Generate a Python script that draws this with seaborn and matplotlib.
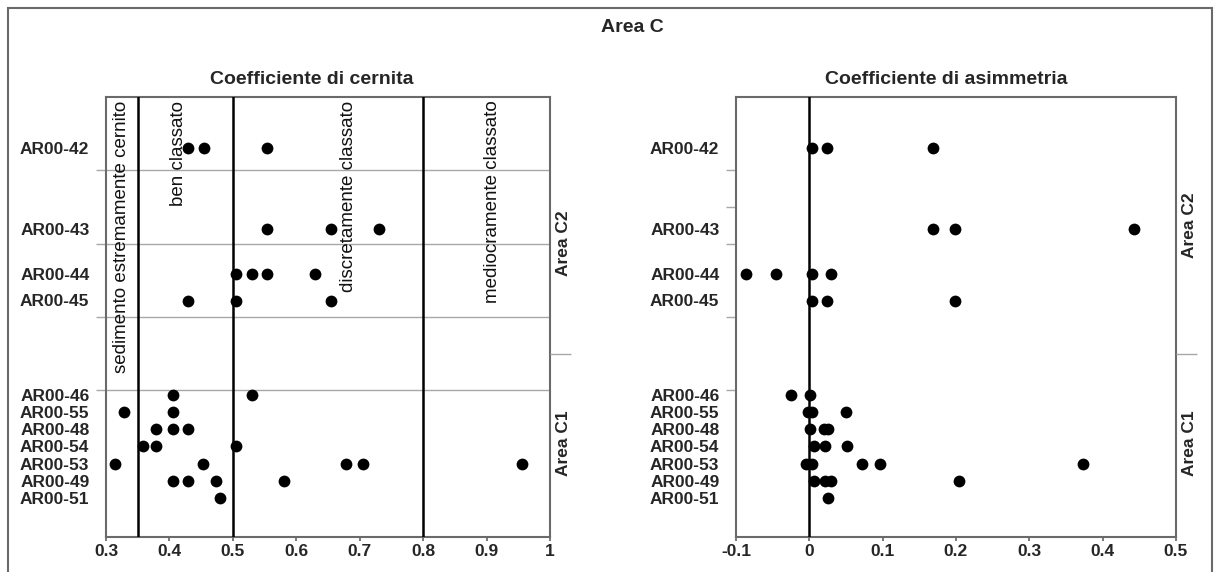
import matplotlib
matplotlib.use("Agg")
import matplotlib.pyplot as plt
from matplotlib.patches import Rectangle
import seaborn as sns
import pandas as pd

# samples (top to bottom) and their vertical position on the 0-12 scale
samples = ["AR00-42", "AR00-43", "AR00-44", "AR00-45", "AR00-46", "AR00-55",
           "AR00-48", "AR00-54", "AR00-53", "AR00-49", "AR00-51"]
sample_pos = [1.38, 3.6, 4.83, 5.55, 8.12, 8.6, 9.06, 9.52, 10.0, 10.48, 10.93]

# coefficiente di cernita (sorting), one list per sample
cernita = [
    [0.430, 0.455, 0.554],
    [0.554, 0.655, 0.730],
    [0.505, 0.530, 0.554, 0.630],
    [0.430, 0.505, 0.655],
    [0.405, 0.530],
    [0.328, 0.405],
    [0.379, 0.405, 0.430],
    [0.359, 0.379, 0.505],
    [0.314, 0.453, 0.679, 0.705, 0.956],
    [0.405, 0.430, 0.474, 0.580],
    [0.480],
]

# coefficiente di asimmetria (skewness), one list per sample
asimmetria = [
    [0.003, 0.024, 0.168],
    [0.168, 0.198, 0.443],
    [-0.087, -0.046, 0.003, 0.029],
    [0.003, 0.024, 0.198],
    [-0.025, 0.001],
    [-0.002, 0.003, 0.050],
    [0.001, 0.020, 0.025],
    [0.006, 0.021, 0.051],
    [-0.004, 0.003, 0.072, 0.097, 0.373],
    [0.006, 0.022, 0.029, 0.204],
    [0.025],
]

cernita_limits = [0.35, 0.5, 0.8]
cernita_classes = ["sedimento estremamente cernito", "ben classato",
                   "discretamente classato", "mediocramente classato"]
cernita_class_x = [0.325, 0.415, 0.683, 0.909]

cernita_ticks = [0.3, 0.4, 0.5, 0.6, 0.7, 0.8, 0.9, 1.0]
cernita_ticklabels = ["0.3", "0.4", "0.5", "0.6", "0.7", "0.8", "0.9", "1"]
asim_ticks = [-0.1, 0, 0.1, 0.2, 0.3, 0.4, 0.5]
asim_ticklabels = ["-0.1", "0", "0.1", "0.2", "0.3", "0.4", "0.5"]

areas = ["Area C2", "Area C1"]
area_boundary = 7


def long_form(values):
    rows = []
    for name, pos, vals in zip(samples, sample_pos, values):
        for v in vals:
            rows.append({"sample": name, "pos": pos, "value": v})
    return pd.DataFrame(rows)


df_c = long_form(cernita)
df_a = long_form(asimmetria)

sns.set_theme(style="white")
plt.rcParams["font.family"] = ["Liberation Sans", "DejaVu Sans"]

W, H = 1218, 572
fig = plt.figure(figsize=(W / 100, H / 100), dpi=100)
fig.patch.set_facecolor("white")

ax1 = fig.add_axes([106 / W, 35 / H, 444 / W, 440 / H])
ax2 = fig.add_axes([736 / W, 35 / H, 440 / W, 440 / H])

SPINE = "#6a6a6a"
GRID = "#a8a8a8"

for ax, df in [(ax1, df_c), (ax2, df_a)]:
    sns.scatterplot(data=df, x="value", y="pos", ax=ax, color="black", s=72,
                    linewidth=0, zorder=4, legend=False)
    ax.set_ylim(12, 0)
    ax.set_xlabel("")
    ax.set_ylabel("")
    ax.set_yticks(sample_pos, samples)
    ax.tick_params(axis="y", which="major", length=0, pad=12)
    for lab in ax.get_yticklabels():
        lab.set_fontweight("bold")
        lab.set_fontsize(12.5)
    ax.tick_params(axis="x", which="major", length=3, pad=2, color=SPINE,
                   bottom=True)
    for sp in ax.spines.values():
        sp.set_color(SPINE)
        sp.set_linewidth(1.5)

# left panel: sorting classes
ax1.set_xlim(0.3, 1.0)
ax1.set_xticks(cernita_ticks, cernita_ticklabels)
ax1.set_yticks([2, 4, 6, 8, 10], minor=True)
ax1.tick_params(axis="y", which="minor", length=7, color=GRID, width=1, left=True)
ax1.grid(axis="y", which="minor", color=GRID, lw=1)
ax1.grid(axis="y", which="major", visible=False)
for x in cernita_limits:
    ax1.axvline(x, color="black", lw=1.8, zorder=3)
for label, x in zip(cernita_classes, cernita_class_x):
    ax1.text(x, 0.1, label, rotation=90, ha="center", va="top", fontsize=13.5,
             color="#111111")

# right panel: skewness
ax2.set_xlim(-0.1, 0.5)
ax2.set_xticks(asim_ticks, asim_ticklabels)
ax2.set_yticks([2, 3, 4, 6, 8, 10], minor=True)
ax2.tick_params(axis="y", which="minor", length=7, color=GRID, width=1, left=True)
ax2.axvline(0, color="black", lw=1.8, zorder=3)

for ax in (ax1, ax2):
    for lab in ax.get_xticklabels():
        lab.set_fontweight("bold")
        lab.set_fontsize(12.5)

# area labels on the right side of each panel
for ax, c2_pos in [(ax1, 4.0), (ax2, 3.5)]:
    tw = ax.twinx()
    tw.set_ylim(12, 0)
    tw.set_yticks([area_boundary])
    tw.tick_params(axis="y", length=15, width=1, color=GRID, labelright=False, right=True)
    for sp in tw.spines.values():
        sp.set_visible(False)
    for label, y in zip(areas, [c2_pos, 9.44]):
        ax.text(1.03, y, label, transform=ax.get_yaxis_transform(), rotation=90,
                ha="center", va="center", fontsize=12.5, fontweight="bold")

ax1.text(0.464, 1.02, "Coefficiente di cernita", transform=ax1.transAxes,
         ha="center", va="bottom", fontsize=14, fontweight="bold")
ax2.text(0.477, 1.02, "Coefficiente di asimmetria", transform=ax2.transAxes,
         ha="center", va="bottom", fontsize=14, fontweight="bold")
fig.text(632 / W, 1 - 28 / H, "Area C", ha="center", va="center",
         fontsize=14, fontweight="bold")

# outer frame of the figure
fig.patches.append(Rectangle((8 / W, -0.05), 1204 / W, 1.05 - 8 / H,
                             transform=fig.transFigure, fill=False,
                             edgecolor=SPINE, lw=1.5))

fig.savefig("out.png", dpi=100, facecolor="white")
